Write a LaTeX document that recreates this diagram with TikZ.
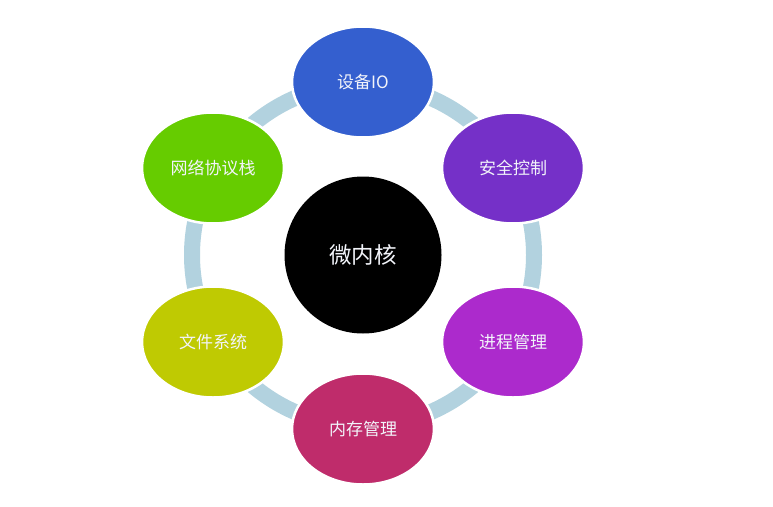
\documentclass[tikz,border=0pt]{standalone}
\usepackage{fontspec}
\newfontfamily\cjk{Noto Sans CJK SC}
\definecolor{ringc}{HTML}{B2D2DF}
\definecolor{cA}{HTML}{345FCF}
\definecolor{cB}{HTML}{7530C8}
\definecolor{cC}{HTML}{AC2ACC}
\definecolor{cD}{HTML}{BF2C6B}
\definecolor{cE}{HTML}{BFCA02}
\definecolor{cF}{HTML}{66CC00}
\definecolor{txt}{HTML}{F2F4FA}
\tikzset{
  petal/.style={ellipse, draw=white, line width=2.5pt, minimum width=142pt, minimum height=111pt, inner sep=0pt, text=txt, font=\cjk\fontsize{17}{17}\selectfont},
  core/.style={circle, fill=black, minimum size=157pt, inner sep=0pt, text=txt, font=\cjk\fontsize{22.5}{22.5}\selectfont}
}
\usetikzlibrary{shapes.geometric}
\begin{document}
\begin{tikzpicture}[x=1pt,y=-1pt]
\useasboundingbox[fill=white] (0,0) rectangle (773,506);
\coordinate (o) at (363,255);
\draw[ringc, line width=16pt] (o) circle[radius=171];
\node[core] (k) at (o) {微内核};
\node[petal, fill=cA] (a) at (363,82) {设备IO};
\node[petal, fill=cB] (b) at (513,168) {安全控制};
\node[petal, fill=cC] (c) at (513,342) {进程管理};
\node[petal, fill=cD] (d) at (363,429) {内存管理};
\node[petal, fill=cE] (e) at (213,342) {文件系统};
\node[petal, fill=cF] (f) at (213,168) {网络协议栈};
\end{tikzpicture}
\end{document}
